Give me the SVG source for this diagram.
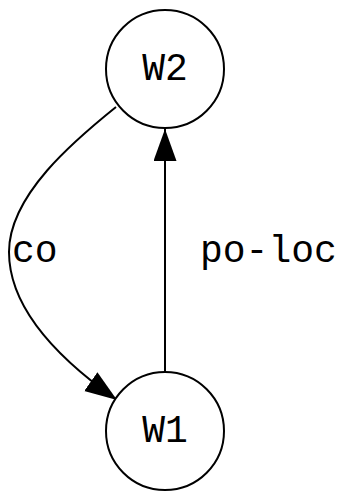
<svg xmlns="http://www.w3.org/2000/svg" width="340" height="492" viewBox="0 0 340 492">
<defs>
<style>
.node circle{fill:#fff;stroke:#000;stroke-width:2}
text{font-family:"Liberation Mono","DejaVu Sans Mono",monospace;font-size:38px;fill:#000}
.edge{fill:none;stroke:#000;stroke-width:2}
</style>
<marker id="ah" markerUnits="userSpaceOnUse" markerWidth="34" markerHeight="24" refX="32" refY="11.5" orient="auto">
<path d="M0,0 L32,11.5 L0,23 Z" fill="#000"/>
</marker>
</defs>
<rect width="340" height="492" fill="#fff"/>
<g id="connectors">
<path class="edge" d="M165,372 L165,129" marker-end="url(#ah)"/>
<path class="edge" d="M116,107 C75,140 9,195 9,252 C9,310 60,360 117,400" marker-end="url(#ah)"/>
<text x="12" y="262">co</text>
<text x="200" y="262">po-loc</text>
</g>
<g id="W2" class="node">
<circle cx="165" cy="69" r="59"/>
<text x="165" y="80" text-anchor="middle">W2</text>
</g>
<g id="W1" class="node">
<circle cx="165" cy="431" r="59"/>
<text x="165" y="442" text-anchor="middle">W1</text>
</g>
</svg>
